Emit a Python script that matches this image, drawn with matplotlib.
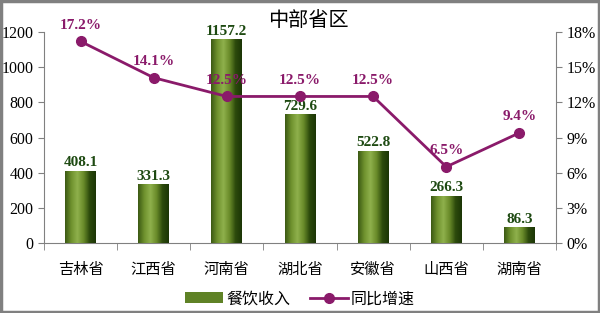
import numpy as np
import matplotlib.pyplot as plt
from matplotlib.colors import LinearSegmentedColormap
from matplotlib.patches import Rectangle

# data
provinces = ['吉林省', '江西省', '河南省', '湖北省', '安徽省', '山西省', '湖南省']
revenue = [408.1, 331.3, 1157.2, 729.6, 522.8, 266.3, 86.3]
growth = [17.2, 14.1, 12.5, 12.5, 12.5, 6.5, 9.4]

cjk = ['Noto Sans CJK SC', 'DejaVu Sans']
serif = 'Liberation Serif'
line_color = '#8a1a6a'
label_green = '#1e4a12'

fig = plt.figure(figsize=(6, 3.13), dpi=100)
ax = fig.add_axes([0.0733, 0.2236, 0.8534, 0.6742])
ax2 = ax.twinx()

x = np.arange(len(provinces))
bars = ax.bar(x, revenue, width=0.42, color='#5f8226', zorder=2, label='餐饮收入')

# horizontal gradient on each bar
cmap = LinearSegmentedColormap.from_list(
    'g', ['#3c5a14', '#6f922e', '#8fb04c', '#6a8c2a', '#2c4a0c', '#1c3606'])
grad = np.linspace(0, 1, 64).reshape(1, -1)
for b in bars:
    ax.imshow(grad, cmap=cmap, aspect='auto', zorder=3,
              extent=[b.get_x(), b.get_x() + b.get_width(), 0, b.get_height()])
for xi, v in zip(x, revenue):
    ax.text(xi, v + 10, f'{v:.1f}', ha='center', va='bottom', fontsize=11,
            fontweight='bold', family=serif, color=label_green, zorder=5)

ax.set_xlim(-0.5, len(provinces) - 0.5)
ax.set_ylim(0, 1200)
ax.set_yticks(range(0, 1201, 200))
ax.set_xticks(x)
ax.set_xticklabels(provinces, family=cjk, fontsize=11)
ax.set_xticks(np.arange(-0.5, len(provinces)), minor=True)
ax.tick_params(axis='x', which='major', length=0, pad=13)
ax.tick_params(axis='x', which='minor', length=5, color='#808080')
ax.tick_params(axis='y', length=4, color='#808080', labelsize=11.5)
for lab in ax.get_yticklabels():
    lab.set_family(serif)

ax2.plot(x, growth, color=line_color, lw=2, marker='o', ms=7, zorder=4,
         label='同比增速')
for xi, g in zip(x, growth):
    ax2.text(xi, g + 0.8, f'{g:.1f}%', ha='center', va='bottom', fontsize=11,
             fontweight='bold', family=serif, color=line_color, zorder=6)
ax2.set_ylim(0, 18)
ax2.set_yticks(range(0, 19, 3))
ax2.set_yticklabels([f'{t}%' for t in range(0, 19, 3)], family=serif, fontsize=11.5)
ax2.tick_params(axis='y', length=4, color='#808080')

for a in (ax, ax2):
    a.spines['top'].set_visible(False)
    a.spines['left'].set_color('#808080')
    a.spines['right'].set_color('#808080')
    a.spines['bottom'].set_color('#808080')
ax2.spines['left'].set_visible(False)
ax.spines['right'].set_visible(False)
ax2.spines['bottom'].set_visible(False)
ax.set_zorder(1)
ax2.set_zorder(2)
ax2.patch.set_visible(False)

fig.text(0.513, 0.935, '中部省区', ha='center', va='center', fontsize=14.5,
         family=cjk)

h1, l1 = ax.get_legend_handles_labels()
h2, l2 = ax2.get_legend_handles_labels()
fig.legend(h1 + h2, l1 + l2, loc='center', bbox_to_anchor=(0.5, 0.045), ncol=2,
           frameon=False, prop={'family': cjk, 'size': 11.5},
           handlelength=2.4, handletextpad=0.2, columnspacing=1.2)

fig.add_artist(Rectangle((0.002, 0.003), 0.996, 0.994, transform=fig.transFigure,
                         fill=False, edgecolor='#808080', lw=2.5))

fig.savefig('out.png', dpi=100)
